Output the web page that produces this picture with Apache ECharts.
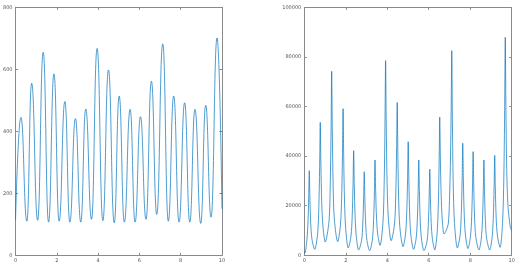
<!DOCTYPE html>
<html>
<head>
<meta charset="utf-8">
<script src="https://cdn.jsdelivr.net/npm/echarts@6/dist/echarts.min.js"></script>
<style>html,body{margin:0;padding:0;background:#fff}#c{width:522px;height:271px}</style>
</head>
<body>
<div id="c"></div>
<script>
// Left panel: signal (turning points)
var leftX = [0, 0.26, 0.55, 0.78, 1.07, 1.34, 1.6, 1.86, 2.11, 2.39, 2.63, 2.9, 3.16, 3.4, 3.68, 3.95, 4.23, 4.5, 4.78, 5.02, 5.27, 5.55, 5.79, 6.05, 6.32, 6.58, 6.84, 7.13, 7.4, 7.66, 7.92, 8.19, 8.44, 8.69, 8.97, 9.21, 9.47, 9.76, 10];
var leftY = [115, 445, 110, 555, 113, 655, 107, 585, 110, 496, 107, 441, 107, 472, 116, 667, 112, 598, 105, 514, 107, 471, 107, 447, 116, 562, 132, 682, 110, 514, 107, 492, 107, 471, 103, 484, 123, 701, 150];
// Right panel: spiky signal (points read along each spike)
var rightX = [0, 0.03, 0.11, 0.17, 0.21, 0.24, 0.27, 0.31, 0.37, 0.5,
  0.64, 0.7, 0.74, 0.77, 0.8, 0.84, 0.9, 1.01,
  1.19, 1.25, 1.29, 1.32, 1.35, 1.39, 1.45, 1.61,
  1.74, 1.8, 1.84, 1.87, 1.9, 1.94, 2.0, 2.12,
  2.25, 2.31, 2.35, 2.38, 2.41, 2.45, 2.51, 2.62,
  2.76, 2.82, 2.86, 2.89, 2.92, 2.96, 3.02, 3.15,
  3.28, 3.34, 3.38, 3.41, 3.44, 3.48, 3.54, 3.65,
  3.79, 3.85, 3.89, 3.92, 3.95, 3.99, 4.05, 4.19,
  4.35, 4.41, 4.45, 4.48, 4.51, 4.55, 4.61, 4.76,
  4.88, 4.94, 4.98, 5.01, 5.04, 5.08, 5.14, 5.27,
  5.39, 5.45, 5.49, 5.52, 5.55, 5.59, 5.65, 5.77,
  5.92, 5.98, 6.02, 6.05, 6.08, 6.12, 6.18, 6.29,
  6.4, 6.46, 6.5, 6.53, 6.56, 6.6, 6.65, 6.74, 6.84, 6.94,
  7.0, 7.05, 7.08, 7.11, 7.14, 7.18, 7.24, 7.38,
  7.51, 7.57, 7.61, 7.64, 7.67, 7.71, 7.77, 7.89,
  8.01, 8.07, 8.11, 8.14, 8.17, 8.21, 8.27, 8.42,
  8.53, 8.59, 8.63, 8.66, 8.69, 8.73, 8.79, 8.94,
  9.05, 9.11, 9.15, 9.18, 9.21, 9.25, 9.31, 9.44,
  9.56, 9.62, 9.66, 9.69, 9.72, 9.76, 9.82, 9.93, 10];
var rightY = [1500, 900, 5000, 11900, 22500, 34100, 23000, 12900, 6500, 2400,
  8500, 19300, 35700, 53600, 36700, 21300, 11600, 5350,
  13600, 28100, 50100, 74200, 50200, 28200, 14400, 5500,
  11900, 23200, 40300, 59100, 39500, 21500, 10300, 2950,
  7700, 15900, 28500, 42200, 28200, 15400, 7400, 2150,
  5900, 12600, 22700, 33700, 22600, 12400, 6000, 1850,
  6200, 13900, 25600, 38400, 26400, 15400, 8500, 4000,
  12900, 28600, 52400, 78500, 53100, 29900, 15300, 5900,
  12600, 24300, 42100, 61600, 41300, 22700, 11100, 3500,
  8600, 17500, 31000, 45800, 30600, 16700, 8000, 2400,
  6700, 14300, 25800, 38400, 25600, 13900, 6600, 1850,
  5800, 12700, 23200, 34700, 23300, 12900, 6400, 2150,
  8600, 19800, 37000, 55700, 39200, 24100, 14600, 8600, 10000, 12600,
  22000, 40000, 58000, 82500, 54700, 29200, 13300, 2950,
  8000, 16900, 30400, 45200, 30300, 16700, 8200, 2700,
  7400, 15600, 28100, 41800, 27900, 15200, 7300, 2150,
  6500, 14100, 25700, 38400, 25700, 14100, 6900, 2150,
  6700, 14700, 27000, 40300, 27300, 15400, 8000, 3200,
  13400, 31200, 58300, 87900, 60000, 35000, 20000, 11500, 10000];
var xTicks = [0, 2, 4, 6, 8, 10];
var leftTicks = [0, 200, 400, 600, 800];
var rightTicks = [0, 20000, 40000, 60000, 80000, 100000];

function pairs(xs, ys) { return xs.map(function (x, i) { return [x, ys[i]]; }); }

var axisColor = '#8a8a8a';
var labelStyle = { fontSize: 5, color: '#555', fontFamily: 'DejaVu Sans', formatter: function (v) { return String(v); } };
function xAx(gi, pos, show) {
  return { type: 'value', gridIndex: gi, position: pos, min: xTicks[0], max: xTicks[xTicks.length - 1], interval: xTicks[1] - xTicks[0],
    axisLine: { show: true, onZero: false, lineStyle: { color: axisColor, width: 1 } },
    axisTick: { show: true, inside: true, length: 2.5, lineStyle: { color: axisColor } },
    axisLabel: Object.assign({ show: show, margin: 3 }, labelStyle), splitLine: { show: false } };
}
function yAx(gi, pos, show, ticks) {
  return { type: 'value', gridIndex: gi, position: pos, min: ticks[0], max: ticks[ticks.length - 1], interval: ticks[1] - ticks[0],
    axisLine: { show: true, onZero: false, lineStyle: { color: axisColor, width: 1 } },
    axisTick: { show: true, inside: true, length: 2.5, lineStyle: { color: axisColor } },
    axisLabel: Object.assign({ show: show, margin: 3 }, labelStyle), splitLine: { show: false } };
}
var chart = echarts.init(document.getElementById('c'), null, { renderer: 'canvas' });
chart.setOption({
  animation: false,
  backgroundColor: '#fff',
  grid: [
    { left: 15.3, right: 300, top: 7.3, bottom: 15.7 },
    { left: 304.3, right: 10.3, top: 7.3, bottom: 15.7 }
  ],
  xAxis: [xAx(0, 'bottom', true), xAx(0, 'top', false), xAx(1, 'bottom', true), xAx(1, 'top', false)],
  yAxis: [yAx(0, 'left', true, leftTicks), yAx(0, 'right', false, leftTicks), yAx(1, 'left', true, rightTicks), yAx(1, 'right', false, rightTicks)],
  series: [
    { type: 'line', xAxisIndex: 0, yAxisIndex: 0, data: pairs(leftX, leftY), showSymbol: false, smooth: 0.5, smoothMonotone: 'x',
      lineStyle: { color: '#0072BD', width: 0.7 } },
    { type: 'line', xAxisIndex: 2, yAxisIndex: 2, data: pairs(rightX, rightY), showSymbol: false, smooth: 0.3,
      lineStyle: { color: '#0072BD', width: 0.7 } }
  ]
});
</script>
</body>
</html>
